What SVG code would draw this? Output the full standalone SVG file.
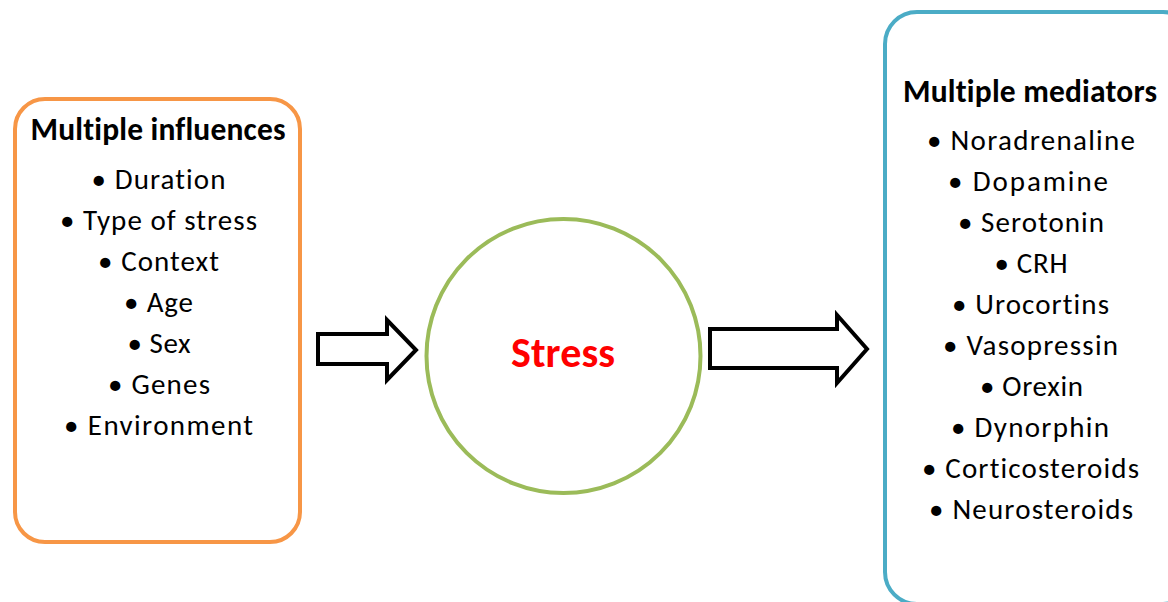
<svg xmlns="http://www.w3.org/2000/svg" width="1168" height="602" viewBox="0 0 1168 602">
  <style>
    .t { font-family: Carlito, "Open Sans", "DejaVu Sans", sans-serif; fill: #000; text-anchor: middle; font-variant-ligatures: none; }
    .item { font-size: 29px; }
    .title { font-size: 31.5px; font-weight: bold; }
    .stress { font-family: Carlito, "Open Sans", "DejaVu Sans", sans-serif; font-size: 42px; font-weight: bold; fill: #FF0000; text-anchor: middle; }
    .arrow { fill: #FFFFFF; stroke: #000000; stroke-width: 4; stroke-linejoin: miter; }
  </style>
  <rect width="1168" height="602" fill="#FFFFFF"/>

  <g id="influences">
    <rect x="15" y="99" width="285" height="443" rx="30" ry="30" fill="#FFFFFF" stroke="#F79646" stroke-width="4"/>
    <text class="t title" x="158" y="140" textLength="255">Multiple influences</text>
    <text class="t item" x="158.5" y="189" textLength="134">• Duration</text>
    <text class="t item" x="158.5" y="230" textLength="197">• Type of stress</text>
    <text class="t item" x="158.5" y="271" textLength="121">• Context</text>
    <text class="t item" x="158.5" y="312" textLength="69">• Age</text>
    <text class="t item" x="159" y="353" textLength="63">• Sex</text>
    <text class="t item" x="159" y="394" textLength="102">• Genes</text>
    <text class="t item" x="158.5" y="435" textLength="189">• Environment</text>
  </g>

  <g id="stress">
    <circle cx="563.5" cy="356" r="137" fill="#FFFFFF" stroke="#9BBB59" stroke-width="4"/>
    <text class="stress" x="563" y="367" textLength="104">Stress</text>
  </g>

  <g id="mediators">
    <rect x="885" y="12" width="310" height="592" rx="32" ry="32" fill="#FFFFFF" stroke="#4BACC6" stroke-width="4"/>
    <text class="t title" x="1030" y="102" textLength="254">Multiple mediators</text>
    <text class="t item" x="1031" y="150" textLength="208">• Noradrenaline</text>
    <text class="t item" x="1028" y="191" textLength="160">• Dopamine</text>
    <text class="t item" x="1031" y="232" textLength="146">• Serotonin</text>
    <text class="t item" x="1031" y="273" textLength="73">• CRH</text>
    <text class="t item" x="1030.5" y="314" textLength="157">• Urocortins</text>
    <text class="t item" x="1030.5" y="355" textLength="175">• Vasopressin</text>
    <text class="t item" x="1031.5" y="396" textLength="103">• Orexin</text>
    <text class="t item" x="1030" y="437" textLength="158">• Dynorphin</text>
    <text class="t item" x="1030.5" y="478" textLength="217">• Corticosteroids</text>
    <text class="t item" x="1031" y="519" textLength="204">• Neurosteroids</text>
  </g>

  <g id="connectors">
    <polygon class="arrow" points="318,334 387,334 387,320 416,350 387,380 387,364 318,364"/>
    <polygon class="arrow" points="710,329 837,329 837,315 867,349 837,383 837,368 710,368"/>
  </g>
</svg>
